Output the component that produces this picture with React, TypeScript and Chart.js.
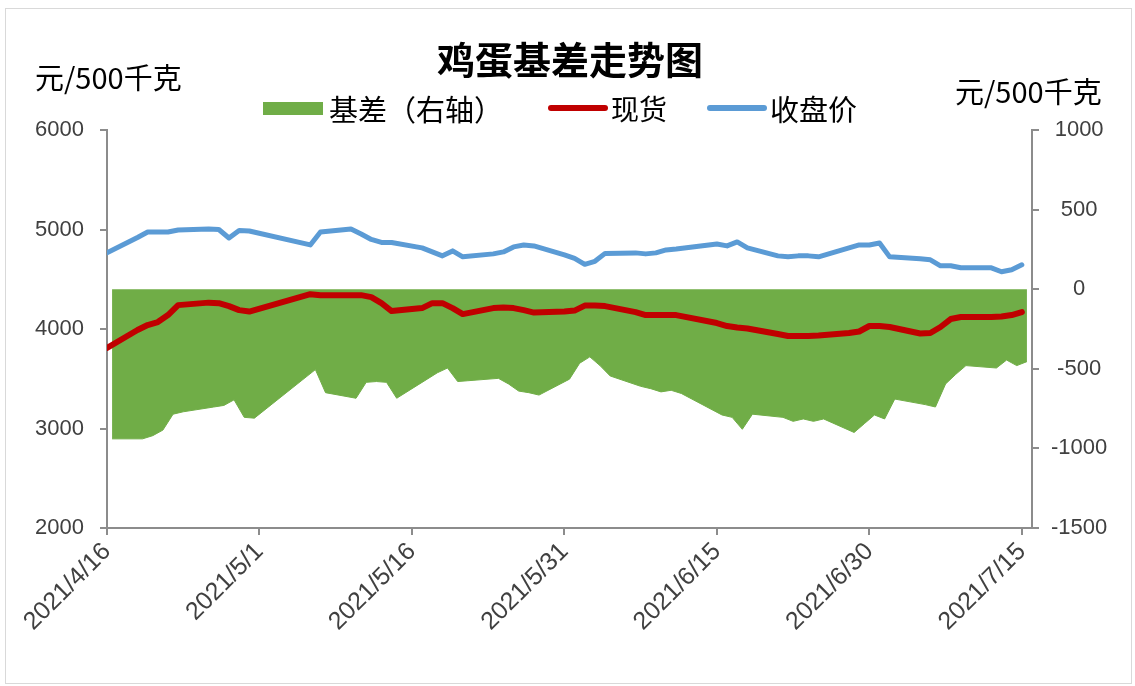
import React, { useEffect, useRef } from 'react';
import { Chart, registerables } from 'chart.js';

Chart.register(...registerables);

// ---- data ----
const tradeDates = [
  '2021-04-16', '2021-04-19', '2021-04-20', '2021-04-21', '2021-04-22', '2021-04-23',
  '2021-04-26', '2021-04-27', '2021-04-28', '2021-04-29', '2021-04-30',
  '2021-05-06', '2021-05-07',
  '2021-05-10', '2021-05-11', '2021-05-12', '2021-05-13', '2021-05-14',
  '2021-05-17', '2021-05-18', '2021-05-19', '2021-05-20', '2021-05-21',
  '2021-05-24', '2021-05-25', '2021-05-26', '2021-05-27', '2021-05-28',
  '2021-05-31', '2021-06-01', '2021-06-02', '2021-06-03', '2021-06-04',
  '2021-06-07', '2021-06-08', '2021-06-09', '2021-06-10', '2021-06-11',
  '2021-06-15', '2021-06-16', '2021-06-17', '2021-06-18',
  '2021-06-21', '2021-06-22', '2021-06-23', '2021-06-24', '2021-06-25',
  '2021-06-28', '2021-06-29', '2021-06-30', '2021-07-01', '2021-07-02',
  '2021-07-05', '2021-07-06', '2021-07-07', '2021-07-08', '2021-07-09',
  '2021-07-12', '2021-07-13', '2021-07-14', '2021-07-15',
];

// 收盘价 (left axis)
const closePrice = [
  4765, 4920, 4975, 4975, 4975, 4995,
  5005, 5000, 4915, 4990, 4985,
  4845, 4975,
  5005, 4955, 4900, 4870, 4870,
  4815, 4775, 4735, 4785, 4725,
  4755, 4775, 4825, 4845, 4835,
  4745, 4710, 4650, 4680, 4760,
  4765, 4755, 4765, 4795, 4805,
  4855, 4835, 4875, 4815,
  4735, 4725, 4735, 4735, 4725,
  4815, 4845, 4845, 4865, 4725,
  4705, 4695, 4635, 4635, 4615,
  4615, 4575, 4595, 4645,
];

// 现货 (left axis)
const spotPrice = [
  3810, 3990, 4040, 4070, 4140, 4240,
  4265, 4260, 4230, 4190, 4175,
  4350, 4340,
  4340, 4340, 4320, 4260, 4180,
  4210, 4260, 4260, 4210, 4150,
  4210, 4215, 4210, 4190, 4165,
  4175, 4185, 4235, 4235, 4230,
  4170, 4140, 4140, 4140, 4140,
  4060, 4030, 4015, 4005,
  3950, 3930, 3930, 3930, 3935,
  3960, 3975, 4030, 4030, 4020,
  3955, 3960, 4020, 4100, 4120,
  4120, 4125, 4140, 4170,
];

// 基差 (right axis)
const basis = [
  -940, -940, -920, -885, -785, -770,
  -740, -730, -695, -805, -810,
  -505, -650,
  -685, -585, -580, -585, -685,
  -565, -525, -495, -580, -575,
  -560, -595, -640, -650, -665,
  -565, -465, -425, -480, -545,
  -610, -625, -645, -635, -655,
  -790, -805, -880, -785,
  -805, -830, -815, -830, -815,
  -900, -845, -790, -815, -690,
  -725, -740, -595, -535, -480,
  -495, -445, -480, -455,
];

const xTickLabels = ['2021/4/16', '2021/5/1', '2021/5/16', '2021/5/31', '2021/6/15', '2021/6/30', '2021/7/15'];
const leftAxis = { min: 2000, max: 6000, step: 1000 };
const rightAxis = { min: -1500, max: 1000, step: 500 };

const seriesNames = { basis: '基差（右轴）', spot: '现货', close: '收盘价' };
const titleText = '鸡蛋基差走势图';
const unitText = '元/500千克';

// ---- helpers ----
const DAY = 86400000;
const startMs = Date.parse(tradeDates[0] + 'T00:00:00Z');
const isoOffset = (s: string) => (Date.parse(s + 'T00:00:00Z') - startMs) / DAY;
const slashOffset = (s: string) => {
  const [y, m, d] = s.split('/').map(Number);
  return (Date.UTC(y, m - 1, d) - startMs) / DAY;
};

const GREEN = '#70AD47';
const RED = '#C00000';
const BLUE = '#5B9BD5';
const AXIS = '#8c8c8c';
const TICKTXT = '#404040';
const CJK = '"Noto Sans CJK SC", "Noto Sans", sans-serif';
const LAT = '"Liberation Sans", Arial, sans-serif';

export default function App() {
  const ref = useRef<HTMLCanvasElement>(null);

  useEffect(() => {
    const days = tradeDates.map(isoOffset);
    const xTickValues = xTickLabels.map(slashOffset);
    const lastDay = xTickValues[xTickValues.length - 1];

    const chart = new Chart(ref.current!, {
      type: 'line',
      data: {
        datasets: [
          {
            label: seriesNames.basis,
            data: days.map((d, i) => ({ x: d + 0.5, y: basis[i] })),
            yAxisID: 'y2',
            backgroundColor: GREEN,
            borderColor: GREEN,
            borderWidth: 1,
            fill: 'origin',
            pointRadius: 0,
            tension: 0,
            order: 3,
          },
          {
            label: seriesNames.spot,
            data: days.map((d, i) => ({ x: d, y: spotPrice[i] })),
            yAxisID: 'y',
            borderColor: RED,
            backgroundColor: RED,
            borderWidth: 6,
            borderJoinStyle: 'round',
            borderCapStyle: 'round',
            fill: false,
            pointRadius: 0,
            tension: 0,
            order: 1,
          },
          {
            label: seriesNames.close,
            data: days.map((d, i) => ({ x: d, y: closePrice[i] })),
            yAxisID: 'y',
            borderColor: BLUE,
            backgroundColor: BLUE,
            borderWidth: 5,
            borderJoinStyle: 'round',
            borderCapStyle: 'round',
            fill: false,
            pointRadius: 0,
            tension: 0,
            order: 2,
          },
        ],
      },
      options: {
        responsive: false,
        animation: false,
        events: [],
        layout: { padding: { top: 130, left: 0, right: 0, bottom: 0 } },
        plugins: {
          legend: { display: false },
          title: { display: false },
          tooltip: { enabled: false },
        },
        scales: {
          x: {
            type: 'linear',
            position: 'bottom',
            min: 0,
            max: lastDay + 1,
            afterFit: (s: any) => { s.height = 158; },
            afterBuildTicks: (s: any) => { s.ticks = xTickValues.map((v) => ({ value: v })); },
            ticks: {
              minRotation: 45,
              maxRotation: 45,
              padding: 2,
              color: TICKTXT,
              font: { family: LAT, size: 25 },
              callback: (v: any) => {
                const i = xTickValues.indexOf(Number(v));
                return i >= 0 ? xTickLabels[i] : '';
              },
            },
            grid: { drawOnChartArea: false, drawTicks: true, tickLength: 7, color: AXIS, lineWidth: 2 },
            border: { display: true, color: AXIS, width: 2 },
          },
          y: {
            type: 'linear',
            position: 'left',
            min: leftAxis.min,
            max: leftAxis.max,
            afterFit: (s: any) => { s.width = 107; },
            ticks: {
              stepSize: leftAxis.step,
              padding: 16,
              color: TICKTXT,
              font: { family: LAT, size: 22 },
              callback: (v: any) => String(v),
            },
            grid: { drawOnChartArea: false, drawTicks: true, tickLength: 7, color: AXIS, lineWidth: 2 },
            border: { display: true, color: AXIS, width: 2 },
          },
          y2: {
            type: 'linear',
            position: 'right',
            min: rightAxis.min,
            max: rightAxis.max,
            afterFit: (s: any) => { s.width = 103; },
            ticks: {
              stepSize: rightAxis.step,
              padding: 12,
              crossAlign: 'center',
              color: TICKTXT,
              font: { family: LAT, size: 22 },
              callback: (v: any) => String(v),
            },
            grid: { drawOnChartArea: false, drawTicks: true, tickLength: 7, color: AXIS, lineWidth: 2 },
            border: { display: true, color: AXIS, width: 2 },
          },
        },
      },
    } as any);
    return () => chart.destroy();
  }, []);

  const text = (extra: React.CSSProperties): React.CSSProperties => ({
    position: 'absolute',
    whiteSpace: 'nowrap',
    fontFamily: CJK,
    color: '#000',
    ...extra,
  });

  return (
    <div style={{ position: 'absolute', left: 0, top: 0, width: 1135, height: 686, background: '#fff', overflow: 'hidden' }}>
      <canvas ref={ref} width={1135} height={686} style={{ position: 'absolute', left: 0, top: 0, display: 'block' }} />
      <div style={{ position: 'absolute', left: 5, top: 8, width: 1125, height: 674, border: '1px solid #d9d9d9', pointerEvents: 'none' }} />
      <div style={text({ left: 0, width: 1140, top: 36, textAlign: 'center', fontSize: 38, fontWeight: 700, lineHeight: '44px' })}>{titleText}</div>
      <div style={text({ left: 35, top: 59, fontSize: 29, lineHeight: '34px' })}>{unitText}</div>
      <div style={text({ left: 955, top: 73, fontSize: 29, lineHeight: '34px' })}>{unitText}</div>
      {/* legend */}
      <div style={{ position: 'absolute', left: 263, top: 102, width: 60, height: 13, background: GREEN }} />
      <div style={text({ left: 329, top: 91, fontSize: 29, lineHeight: '34px' })}>{seriesNames.basis}</div>
      <div style={{ position: 'absolute', left: 548, top: 105, width: 60, height: 6, borderRadius: 3, background: RED }} />
      <div style={text({ left: 611, top: 91, fontSize: 28, lineHeight: '34px' })}>{seriesNames.spot}</div>
      <div style={{ position: 'absolute', left: 707, top: 105, width: 60, height: 6, borderRadius: 3, background: BLUE }} />
      <div style={text({ left: 770, top: 91, fontSize: 29, lineHeight: '34px' })}>{seriesNames.close}</div>
    </div>
  );
}
